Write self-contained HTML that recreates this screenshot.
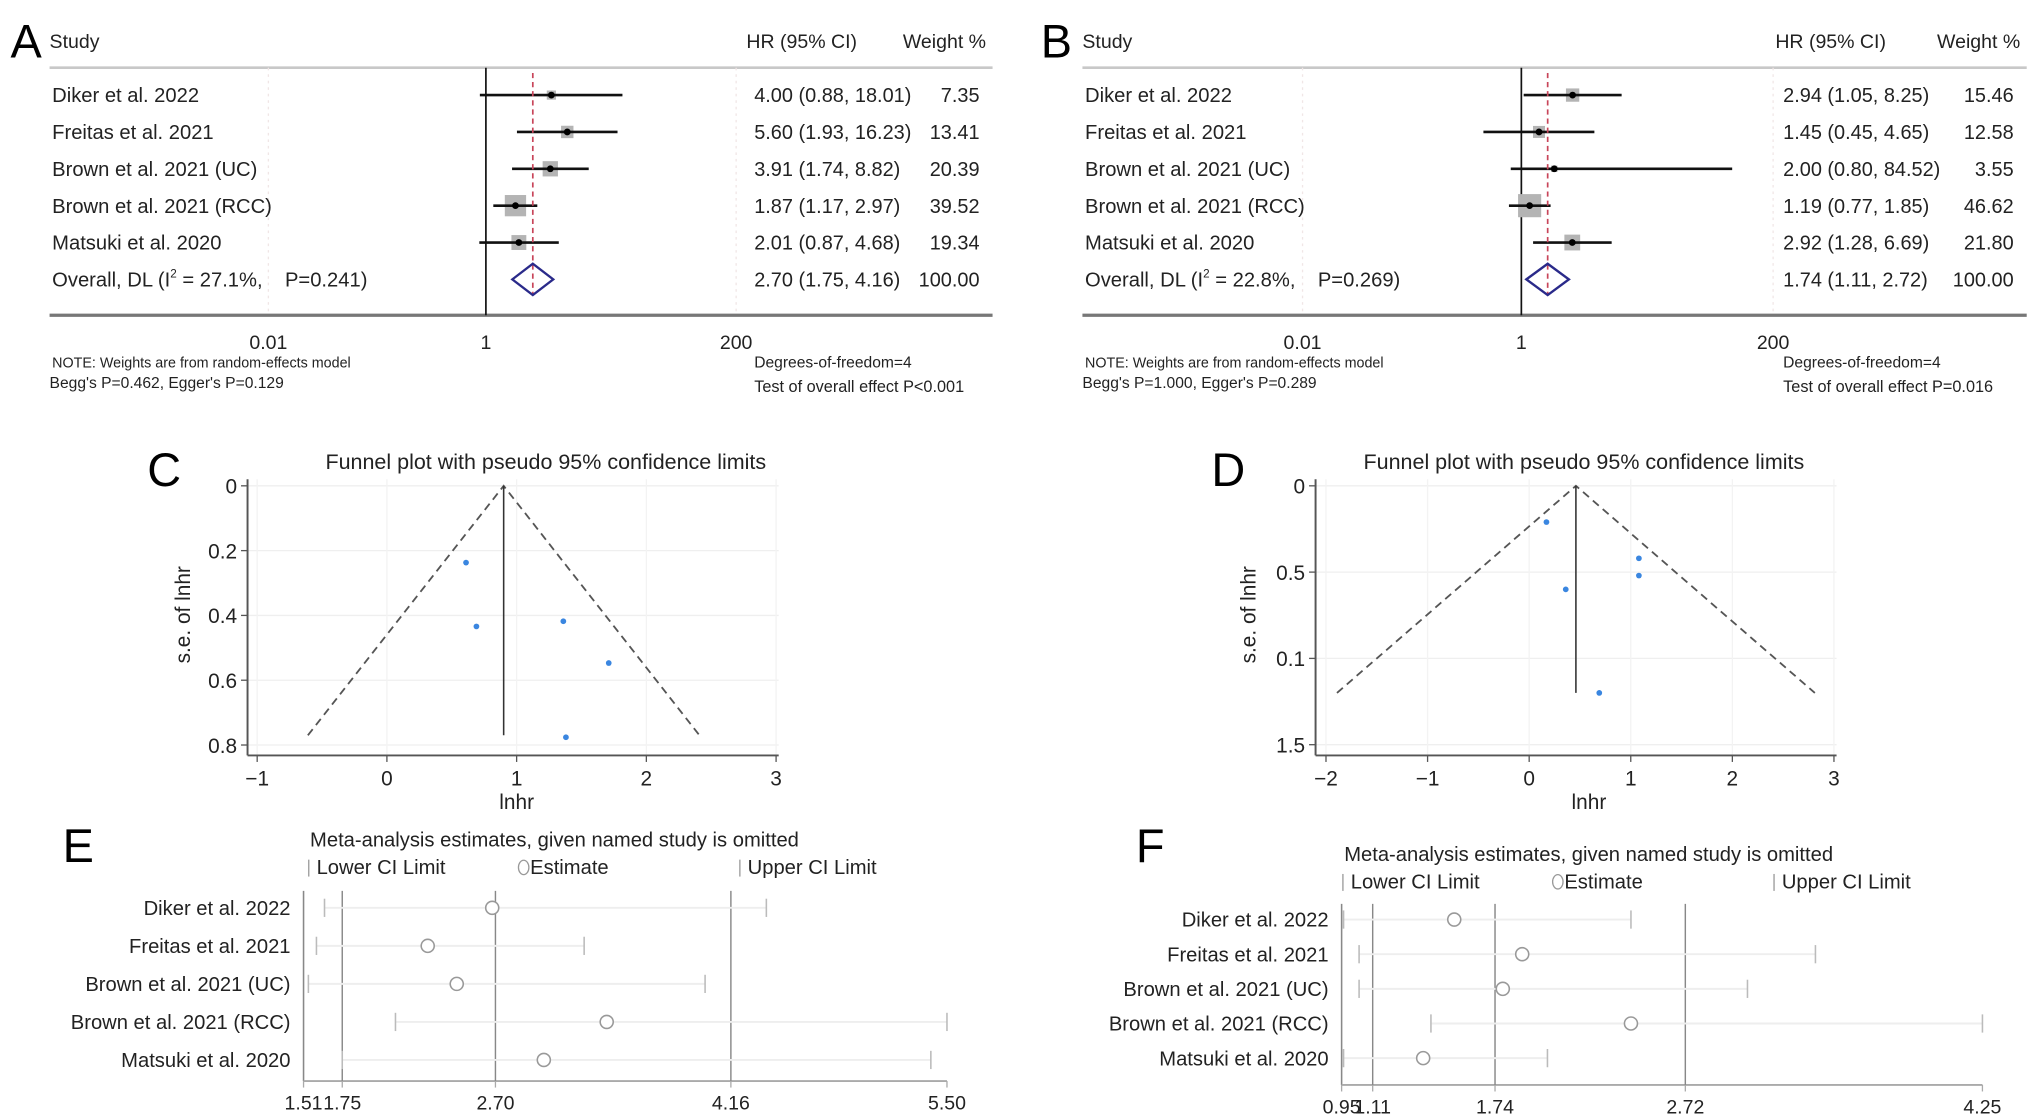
<!DOCTYPE html>
<html><head><meta charset="utf-8"><style>
html,body{margin:0;padding:0;background:#fff;}
svg{display:block;font-family:"Liberation Sans",sans-serif;}
text{white-space:pre;}
</style></head><body>
<svg id="fig" width="2032" height="1117" viewBox="0 0 1560 857.6" xmlns="http://www.w3.org/2000/svg">
<rect width="1560" height="858" fill="#fff"/>
<g id="panelA"></g>
<g id="panelB"></g>
<g id="panelC"></g>
<g id="panelD"></g>
<g id="panelE"></g>
<g id="panelF"></g>
</svg>
<script>
// ---------- data ----------
const studies = ["Diker et al. 2022","Freitas et al. 2021","Brown et al. 2021 (UC)","Brown et al. 2021 (RCC)","Matsuki et al. 2020"];
const forestTicks = [0.01, 1, 200];
const hrA = [4.00, 5.60, 3.91, 1.87, 2.01];
const loA = [0.88, 1.93, 1.74, 1.17, 0.87];
const hiA = [18.01, 16.23, 8.82, 2.97, 4.68];
const wA  = [7.35, 13.41, 20.39, 39.52, 19.34];
const overallA = [2.70, 1.75, 4.16];
const hetA = ["27.1%", "0.241"];
const hrB = [2.94, 1.45, 2.00, 1.19, 2.92];
const loB = [1.05, 0.45, 0.80, 0.77, 1.28];
const hiB = [8.25, 4.65, 84.52, 1.85, 6.69];
const wB  = [15.46, 12.58, 3.55, 46.62, 21.80];
const overallB = [1.74, 1.11, 2.72];
const hetB = ["22.8%", "0.269"];

const funnelXTicksC = [-1, 0, 1, 2, 3];
const funnelYTicksC = [0, 0.2, 0.4, 0.6, 0.8];
const funnelYLabelsC = ["0", "0.2", "0.4", "0.6", "0.8"];
const lnhrC = [0.61, 0.69, 1.36, 1.71, 1.38];
const seC = [0.237, 0.434, 0.418, 0.547, 0.776];
const pooledC = 0.90;
const seMaxC = 0.77;

const funnelXTicksD = [-2, -1, 0, 1, 2, 3];
const funnelYTicksD = [0, 0.5, 1, 1.5];
const funnelYLabelsD = ["0", "0.5", "0.1", "1.5"];
const lnhrD = [0.17, 1.08, 1.08, 0.36, 0.69];
const seD = [0.21, 0.42, 0.52, 0.60, 1.20];
const pooledD = 0.46;
const seMaxD = 1.20;

const sensTicksE = [1.51, 1.75, 2.70, 4.16, 5.50];
const sensLowE = [1.64, 1.59, 1.54, 2.08, 1.75];
const sensEstE = [2.68, 2.28, 2.46, 3.39, 3.00];
const sensUpE  = [4.38, 3.25, 4.00, 5.50, 5.40];
const sensTicksF = [0.95, 1.11, 1.74, 2.72, 4.25];
const sensLowF = [0.96, 1.04, 1.04, 1.41, 0.96];
const sensEstF = [1.53, 1.88, 1.78, 2.44, 1.37];
const sensUpF  = [2.44, 3.39, 3.04, 4.25, 2.01];

// ---------- helpers ----------
const NS = "http://www.w3.org/2000/svg";
function mk(tag, attrs, parent, txt){
  const e = document.createElementNS(NS, tag);
  for (const k in attrs) e.setAttribute(k, attrs[k]);
  if (txt !== undefined) e.textContent = txt;
  parent.appendChild(e);
  return e;
}
const F = "#222";

// ---------- forest plots ----------
function forest(g, P, hr, lo, hi, w, overall, het, begg, pOverall){
  const fx = v => P.x1 + P.k * Math.log10(v);
  const rowY = i => 73 + 28.3 * i;
  let t;
  t = mk("text", {x:P.letterX, y:44, "font-size":36, fill:"#000"}, g, P.letter);
  
  
  t = mk("text", {x:P.left, y:37, "font-size":15, fill:F}, g, "Study");
  
  
  t = mk("text", {x:P.hrX - 6, y:37, "font-size":15, fill:F}, g, "HR (95% CI)");
  
  
  t = mk("text", {x:P.wX + 5, y:37, "font-size":15, fill:F, "text-anchor":"end"}, g, "Weight %");
  
  
  mk("line", {x1:P.left, x2:P.right, y1:52, y2:52, stroke:"#c8c8c8", "stroke-width":2}, g);
  forestTicks.forEach(v => { mk("line", {x1:fx(v), x2:fx(v), y1:52, y2:242, stroke:"#f0e6e6", "stroke-width":1, "stroke-dasharray":"2,3"}, g); });
  const ax = mk("line", {x1:P.left, x2:P.right, y1:242, y2:242, stroke:"#777", "stroke-width":2.5}, g);
  
  
  forestTicks.forEach(v => {
    const tl = mk("text", {x:fx(v), y:268, "font-size":15, fill:F, "text-anchor":"middle"}, g, String(v));
    
    
  });
  const nl = mk("line", {x1:fx(1), x2:fx(1), y1:52, y2:242, stroke:"#111", "stroke-width":1.3}, g);
  
  
  hr.forEach((v, i) => {
    const y = rowY(i);
    const lab = mk("text", {x:P.left + 2, y:y + 5.5, "font-size":15.5, fill:F}, g, studies[i]);
    
    
    const s = 2.6 * Math.sqrt(w[i]);
    const box = mk("rect", {x:fx(v) - s/2, y:y - s/2, width:s, height:s, fill:"#b4b4b4"}, g);
    
    
    const ci = mk("line", {x1:fx(lo[i]), x2:fx(hi[i]), y1:y, y2:y, stroke:"#111", "stroke-width":2}, g);
    
    
    const pt = mk("circle", {cx:fx(v), cy:y, r:2.6, fill:"#000"}, g);
    
    
    const ht = mk("text", {x:P.hrX, y:y + 5.5, "font-size":15.3, fill:F}, g, v.toFixed(2) + " (" + lo[i].toFixed(2) + ", " + hi[i].toFixed(2) + ")");
    
    
    const wt = mk("text", {x:P.wX, y:y + 5.5, "font-size":15.3, fill:F, "text-anchor":"end"}, g, w[i].toFixed(2));
    
    
  });
  const yo = rowY(5);
  const ref = mk("line", {x1:fx(overall[0]), x2:fx(overall[0]), y1:56, y2:yo + 12, stroke:"#c8455a", "stroke-width":1.3, "stroke-dasharray":"4,3"}, g);
  
  
  const dm = mk("polygon", {points:[fx(overall[1])+","+yo, fx(overall[0])+","+(yo-12), fx(overall[2])+","+yo, fx(overall[0])+","+(yo+12)].join(" "), fill:"none", stroke:"#2a2a8a", "stroke-width":1.8}, g);
  
  
  const ol = mk("text", {x:P.left + 2, y:yo + 5.5, "font-size":15.5, fill:F}, g);
  
  
  mk("tspan", {}, ol, "Overall, DL (I");
  mk("tspan", {"font-size":9, dy:-7}, ol, "2");
  mk("tspan", {dy:7}, ol, " = " + het[0] + ",    P=" + het[1] + ")");
  const ot = mk("text", {x:P.hrX, y:yo + 5.5, "font-size":15.3, fill:F}, g, overall[0].toFixed(2) + " (" + overall[1].toFixed(2) + ", " + overall[2].toFixed(2) + ")");
  
  
  const ow = mk("text", {x:P.wX, y:yo + 5.5, "font-size":15.3, fill:F, "text-anchor":"end"}, g, "100.00");
  
  
  const n1 = mk("text", {x:P.left + 2, y:282, "font-size":11, fill:F}, g, "NOTE: Weights are from random-effects model");
  
  
  const n2 = mk("text", {x:P.left, y:298, "font-size":12, fill:F}, g, begg);
  
  
  const n3 = mk("text", {x:P.hrX, y:282, "font-size":12, fill:F}, g, "Degrees-of-freedom=4");
  
  
  const n4 = mk("text", {x:P.hrX, y:301, "font-size":12.5, fill:F}, g, "Test of overall effect " + pOverall);
  
  
}
forest(document.getElementById("panelA"), {x1:373, k:83.5, left:38, right:762, hrX:579, wX:752, letter:"A", letterX:8}, hrA, loA, hiA, wA, overallA, hetA, "Begg's P=0.462, Egger's P=0.129", "P<0.001");
forest(document.getElementById("panelB"), {x1:1168, k:84, left:831, right:1556, hrX:1369, wX:1546, letter:"B", letterX:799}, hrB, loB, hiB, wB, overallB, hetB, "Begg's P=1.000, Egger's P=0.289", "P=0.016");

// ---------- funnel plots ----------
function funnel(g, P, xt, yt, ylab, xs, ys, pooled, seMax){
  const fx = v => P.x0 + P.kx * v;
  const fy = v => P.y0 + P.ky * v;
  let t;
  t = mk("text", {x:P.letterX, y:373, "font-size":36, fill:"#000"}, g, P.letter);
  
  
  t = mk("text", {x:P.titleX, y:360, "font-size":16.5, fill:F, "text-anchor":"middle"}, g, "Funnel plot with pseudo 95% confidence limits");
  
  
  const xr = fx(xt[xt.length-1]) + 2;
  yt.forEach(v => mk("line", {x1:P.axX, x2:xr, y1:fy(v), y2:fy(v), stroke:"#efefef", "stroke-width":1}, g));
  xt.forEach(v => mk("line", {x1:fx(v), x2:fx(v), y1:368, y2:P.axY, stroke:"#f3f3f3", "stroke-width":1}, g));
  const ya = mk("line", {x1:P.axX, x2:P.axX, y1:368, y2:P.axY, stroke:"#555", "stroke-width":1.5}, g);
  
  
  const xa = mk("line", {x1:P.axX, x2:xr, y1:P.axY, y2:P.axY, stroke:"#555", "stroke-width":1.5}, g);
  
  
  yt.forEach((v, i) => {
    mk("line", {x1:P.axX - 5, x2:P.axX, y1:fy(v), y2:fy(v), stroke:"#555"}, g);
    const tl = mk("text", {x:P.axX - 8, y:fy(v) + 6, "font-size":16, fill:F, "text-anchor":"end"}, g, ylab[i]);
    
    
  });
  xt.forEach(v => {
    mk("line", {x1:fx(v), x2:fx(v), y1:P.axY, y2:P.axY + 5, stroke:"#555"}, g);
    const tl = mk("text", {x:fx(v), y:P.axY + 23, "font-size":16, fill:F, "text-anchor":"middle"}, g, v < 0 ? "\u2212" + Math.abs(v) : String(v));
    
    
  });
  t = mk("text", {x:fx(pooled) + 10, y:P.axY + 41, "font-size":16, fill:F, "text-anchor":"middle"}, g, "lnhr");
  
  
  t = mk("text", {x:P.ytX, y:472, "font-size":16, fill:F, "text-anchor":"middle", transform:"rotate(-90 " + P.ytX + " 472)"}, g, "s.e. of lnhr");
  
  
  const fl = mk("polyline", {points:[fx(pooled - 1.96*seMax)+","+fy(seMax), fx(pooled)+","+fy(0), fx(pooled + 1.96*seMax)+","+fy(seMax)].join(" "), fill:"none", stroke:"#555", "stroke-width":1.4, "stroke-dasharray":"6,4"}, g);
  
  
  const pl = mk("line", {x1:fx(pooled), x2:fx(pooled), y1:fy(0), y2:fy(seMax), stroke:"#333", "stroke-width":1.2}, g);
  
  
  xs.forEach((v, i) => {
    const c = mk("circle", {cx:fx(v), cy:fy(ys[i]), r:2.2, fill:"#3a86e0"}, g);
    
    
  });
}
funnel(document.getElementById("panelC"), {x0:297, kx:99.6, y0:373, ky:248.75, axX:190, axY:580, letter:"C", letterX:113, titleX:419, ytX:146}, funnelXTicksC, funnelYTicksC, funnelYLabelsC, lnhrC, seC, pooledC, seMaxC);
funnel(document.getElementById("panelD"), {x0:1174, kx:78, y0:373, ky:132.5, axX:1010, axY:580, letter:"D", letterX:930, titleX:1216, ytX:964}, funnelXTicksD, funnelYTicksD, funnelYLabelsD, lnhrD, seD, pooledD, seMaxD);

// ---------- sensitivity plots ----------
function sens(g, P, ticks, low, est, up){
  const fx = v => P.ax + (P.ar - P.ax) * (v - ticks[0]) / (ticks[ticks.length-1] - ticks[0]);
  const rowY = i => P.r0 + P.dr * i;
  let t;
  t = mk("text", {x:P.letterX, y:P.letterY, "font-size":36, fill:"#000"}, g, P.letter);
  
  
  t = mk("text", {x:P.titleX, y:P.titleY, "font-size":15.5, fill:F}, g, "Meta-analysis estimates, given named study is omitted");
  
  
  const ly = P.titleY + 21;
  mk("line", {x1:P.titleX - 1, x2:P.titleX - 1, y1:ly - 11, y2:ly + 2, stroke:"#999"}, g);
  t = mk("text", {x:P.titleX + 5, y:ly, "font-size":15.5, fill:F}, g, "Lower CI Limit");
  
  
  mk("ellipse", {cx:P.titleX + 164, cy:ly - 5, rx:4, ry:5.5, fill:"none", stroke:"#999"}, g);
  t = mk("text", {x:P.titleX + 169, y:ly, "font-size":15.5, fill:F}, g, "Estimate");
  
  
  mk("line", {x1:P.titleX + 330, x2:P.titleX + 330, y1:ly - 11, y2:ly + 2, stroke:"#999"}, g);
  t = mk("text", {x:P.titleX + 336, y:ly, "font-size":15.5, fill:F}, g, "Upper CI Limit");
  
  
  const ya = mk("line", {x1:P.ax, x2:P.ax, y1:P.top, y2:P.axY, stroke:"#888", "stroke-width":1.2}, g);
  
  
  const xa = mk("line", {x1:P.ax, x2:P.ar, y1:P.axY, y2:P.axY, stroke:"#aaa", "stroke-width":1.5}, g);
  
  
  ticks.forEach((v, i) => {
    if (i > 0 && i < ticks.length - 1) {
      const rl = mk("line", {x1:fx(v), x2:fx(v), y1:P.top, y2:P.axY, stroke:"#888", "stroke-width":1.1}, g);
      
      
    }
    mk("line", {x1:fx(v), x2:fx(v), y1:P.axY, y2:P.axY + 5, stroke:"#aaa"}, g);
    const tl = mk("text", {x:fx(v), y:P.axY + 22, "font-size":15, fill:F, "text-anchor":"middle"}, g, v.toFixed(2));
    
    
  });
  studies.forEach((s, i) => {
    const y = rowY(i);
    const lab = mk("text", {x:P.ax - 10, y:y + 5.5, "font-size":15.5, fill:F, "text-anchor":"end"}, g, s);
    
    
    const rl = mk("line", {x1:fx(low[i]), x2:fx(up[i]), y1:y, y2:y, stroke:"#eeeeee", "stroke-width":1.5}, g);
    
    
    const l = mk("line", {x1:fx(low[i]), x2:fx(low[i]), y1:y - 7, y2:y + 7, stroke:"#bbb", "stroke-width":1.2}, g);
    
    
    const u = mk("line", {x1:fx(up[i]), x2:fx(up[i]), y1:y - 7, y2:y + 7, stroke:"#bbb", "stroke-width":1.2}, g);
    
    
    const c = mk("circle", {cx:fx(est[i]), cy:y, r:5, fill:"#fff", stroke:"#999", "stroke-width":1.2}, g);
    
    
  });
}
sens(document.getElementById("panelE"), {ax:233, ar:727, axY:830, top:684, r0:697, dr:29.2, letter:"E", letterX:48, letterY:662, titleX:238, titleY:650}, sensTicksE, sensLowE, sensEstE, sensUpE);
sens(document.getElementById("panelF"), {ax:1030, ar:1522, axY:833, top:694, r0:706, dr:26.6, letter:"F", letterX:872, letterY:662, titleX:1032, titleY:661}, sensTicksF, sensLowF, sensEstF, sensUpF);
</script>
</body></html>
